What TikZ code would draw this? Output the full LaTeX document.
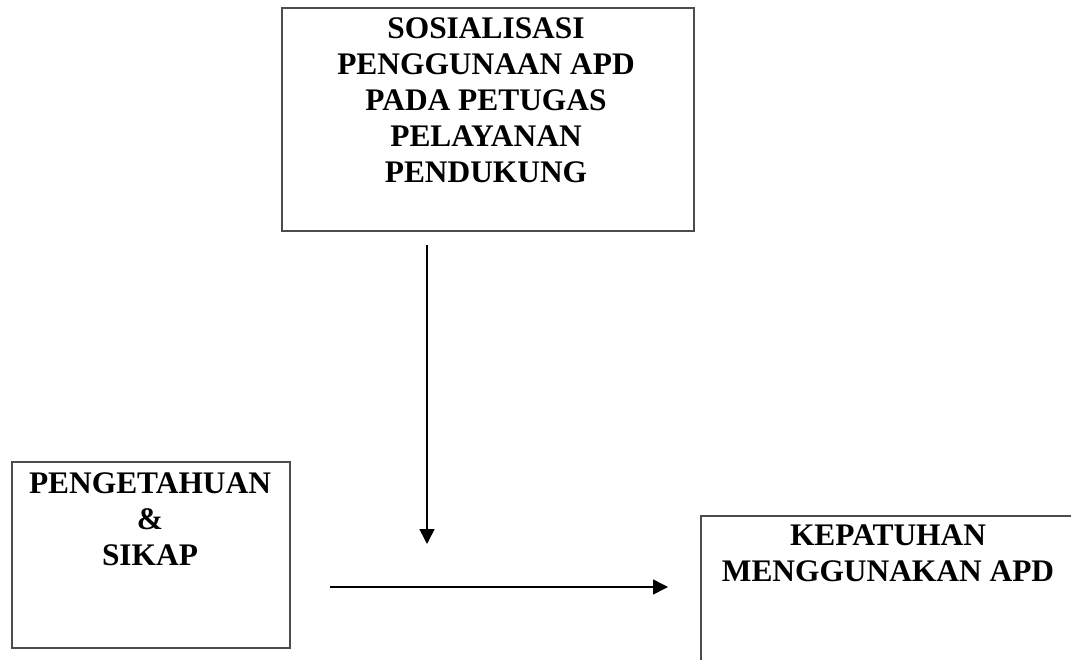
\documentclass[tikz,border=0pt]{standalone}
\usepackage{fontspec}
\setmainfont{Liberation Serif}
\usetikzlibrary{arrows.meta}
\begin{document}
\begin{tikzpicture}[x=1pt,y=-1pt,
  box/.style={draw=black!70, line width=1.6pt, inner sep=0pt, anchor=north west},
  lbl/.style={font=\fontsize{31.4}{36}\selectfont\bfseries, align=center, inner sep=0pt, anchor=north},
  arr/.style={line width=1.6pt, -{Triangle[length=15pt,width=15pt]}}]
\clip (0,0) rectangle (1071,660);
\fill[white] (0,0) rectangle (1071,660);
% boxes
\node[box, minimum width=412pt, minimum height=223pt] (topbox) at (281,7) {};
\node[box, minimum width=278pt, minimum height=186pt] (leftbox) at (11,461) {};
\node[box, minimum width=376pt, minimum height=220pt] (rightbox) at (700,515) {};
% labels
\node[lbl] (toptext) at (486,18) {SOSIALISASI\\PENGGUNAAN APD\\PADA PETUGAS\\PELAYANAN\\PENDUKUNG};
\node[lbl] (lefttext) at (150,473) {PENGETAHUAN\\\&\\SIKAP};
\node[lbl] (righttext) at (888,525) {KEPATUHAN\\MENGGUNAKAN APD};
% arrows
\coordinate (v1) at (427,245);
\coordinate (v2) at (427,544);
\coordinate (h1) at (330,587);
\coordinate (h2) at (668,587);
\draw[arr] (v1) -- (v2);
\draw[arr] (h1) -- (h2);
\end{tikzpicture}
\end{document}
